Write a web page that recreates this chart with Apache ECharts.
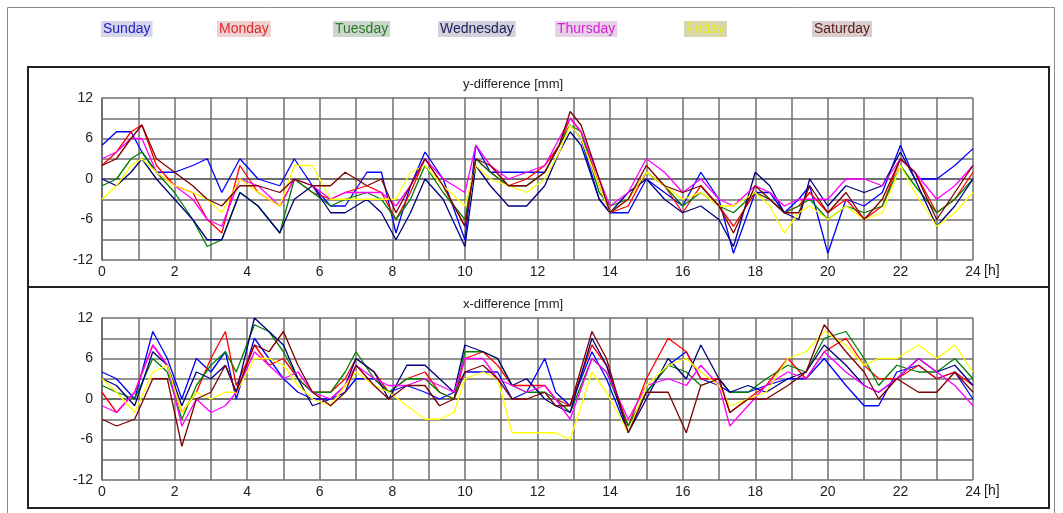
<!DOCTYPE html>
<html>
<head>
<meta charset="utf-8">
<script src="https://cdn.jsdelivr.net/npm/echarts@6/dist/echarts.min.js"></script>
<style>
  html, body { margin: 0; padding: 0; background: #fff; }
  #chart { width: 1063px; height: 513px; }
</style>
</head>
<body>
<div id="chart"></div>
<script>
const days = ['Sunday', 'Monday', 'Tuesday', 'Wednesday', 'Thursday', 'Friday', 'Saturday']
const dayColors = ['#0000ff', '#ff0000', '#008000', '#000080', '#ff00ff', '#ffff00', '#800000']

// sample times [h] for the y-difference panel
const hoursY = [0, 0.4, 0.8, 1.1, 1.5, 2.0, 2.5, 2.9, 3.3, 3.8, 4.3, 4.9, 5.3, 5.8, 6.3, 6.7, 7.3, 7.7, 8.1, 8.5,
  8.9, 9.4, 10.0, 10.3, 10.7, 11.2, 11.7, 12.2, 12.6, 12.9, 13.2, 13.7, 14.0, 14.5, 15.0, 15.5, 16.0, 16.5, 17.0, 17.4,
  18.0, 18.4, 18.8, 19.2, 19.5, 20.0, 20.5, 21.0, 21.5, 22.0, 22.4, 23.0, 23.5, 24.0]

const yDiffSunday = [5, 7, 7, 4, 1, 1, 2, 3, -2, 3, 0, -1, 3, -1, -4, -4, 1, 1, -8, -1,
  4, 0, -9, 5, 1, 1, 1, 1, 5, 8, 6, -3, -5, -5, 0, -2, -4, 1, -3, -11,
  -2, -2, -5, -3, -1, -11, -3, -4, -2, 5, 0, 0, 2, 4.5]
const yDiffMonday = [2, 4, 7, 8, 2, -1, -2, -6, -8, 2, -2, -4, 0, -2, -3, -2, -1, -2, -6, -2,
  3, -1, -7, 3, 1, -1, 0, 2, 5, 9, 7, -1, -5, -4, 1, -1, -5, -1, -4, -7,
  -2, -3, -5, -4, -2, -5, -3, -6, -4, 3, 1, -5, -3, 1]
const yDiffTuesday = [-1, 0, 3, 4, 1, -2, -6, -10, -9, -2, -4, -8, 0, -2, -4, -3, -2, -3, -6, -3,
  2, -2, -6, 3, 1, -1, -1, 1, 5, 8, 7, -2, -4, -3, 1, -1, -4, -2, -4, -5,
  -2, -3, -5, -4, -3, -6, -4, -5, -4, 2, -1, -5, -3, 0]
const yDiffWednesday = [0, -1, 1, 3, 0, -3, -6, -9, -9, -2, -4, -8, -3, -1, -5, -5, -3, -5, -9, -5,
  0, -3, -10, 2, -1, -4, -4, -1, 4, 7, 5, -3, -5, -2, 0, -3, -5, -4, -6, -10,
  1, -1, -5, -6, 0, -4, -1, -2, -1, 4, 0, -7, -4, 0]
const yDiffThursday = [3, 4, 6, 6, 1, -1, -3, -6, -7, 0, -1, -4, 0, -1, -3, -2, -2, -2, -4, -1,
  3, 0, -2, 5, 2, 0, 1, 2, 6, 9, 7, 0, -4, -2, 3, 1, -2, 0, -3, -4,
  -1, -2, -4, -3, -3, -3, 0, 0, -1, 3, 1, -3, -1, 2]
const yDiffFriday = [-3, -1, 2, 3, 1, -1, -2, -3, -5, 0, -2, -4, 2, 2, -3, -3, -3, -3, -3, 1,
  2, -1, -4, 2, 0, -1, -2, 0, 4, 8, 6, -1, -5, -3, 1, -1, -3, -2, -4, -4,
  -2, -4, -8, -5, -4, -6, -4, -6, -5, 2, -2, -7, -5, -2]
const yDiffSaturday = [2, 3, 6, 8, 3, 1, -1, -3, -4, -1, -1, -2, 0, -1, -1, 1, -1, 0, -5, -1,
  3, -1, -7, 3, 2, -1, -1, 1, 5, 10, 8, 0, -5, -3, 2, -1, -2, -1, -4, -8,
  -1, -3, -5, -5, -1, -5, -2, -6, -3, 3, 1, -6, -2, 2]

// sample times [h] for the x-difference panel
const hoursX = [0, 0.4, 0.9, 1.4, 1.8, 2.2, 2.6, 3.0, 3.4, 3.7, 4.2, 4.6, 5.0, 5.4, 5.8, 6.3, 6.7, 7.0, 7.5, 7.9,
  8.4, 8.9, 9.3, 9.7, 10.0, 10.5, 10.9, 11.3, 11.7, 12.2, 12.5, 12.9, 13.5, 13.9, 14.5, 15.0, 15.6, 16.1, 16.5, 17.0,
  17.3, 17.8, 18.3, 18.9, 19.4, 19.9, 20.5, 21.0, 21.4, 21.9, 22.5, 23.0, 23.5, 24.0]

const xDiffSunday = [4, 3, 0, 10, 6, 0, 6, 4, 7, 0, 9, 6, 3, 1, 0, 0, 1, 3, 3, 1,
  2, 1, 0, 1, 4, 4, 4, 0, 1, 6, 1, -1, 7, 3, -5, 1, 5, 7, 3, 2,
  1, 1, 2, 3, 3, 6, 2, -1, -1, 4, 5, 3, 4, 0]
const xDiffMonday = [1, -2, 1, 8, 5, -2, 1, 6, 10, 2, 8, 5, 6, 3, 1, 1, 3, 6, 4, 1,
  3, 4, 1, 0, 6, 7, 5, 2, 2, 2, 0, -1, 8, 5, -4, 3, 9, 7, 3, 3,
  -2, 0, 2, 6, 3, 7, 9, 5, 3, 3, 5, 3, 4, 2]
const xDiffTuesday = [2, 1, 0, 6, 4, -3, 2, 5, 7, 4, 11, 10, 7, 3, 1, 1, 4, 7, 3, 1,
  3, 3, 1, 0, 7, 7, 6, 2, 1, 1, 0, -2, 6, 4, -4, 1, 5, 4, 2, 3,
  1, 1, 3, 5, 4, 9, 10, 6, 2, 5, 4, 4, 6, 3]
const xDiffWednesday = [3, 2, -1, 7, 5, -1, 4, 3, 5, 1, 12, 10, 8, 3, -1, 0, 2, 6, 4, 0,
  5, 5, 3, 1, 8, 7, 6, 2, 3, 0, -1, -2, 9, 5, -5, 0, 6, 3, 8, 3,
  1, 2, 1, 3, 4, 8, 5, 2, 1, 3, 6, 4, 5, 2]
const xDiffThursday = [-1, -2, 1, 8, 5, -4, 0, -2, -1, 1, 7, 5, 3, 4, 1, 0, 2, 5, 3, 2,
  2, 3, 2, 1, 6, 6, 3, 2, 1, 2, 0, -3, 6, 4, -3, 2, 3, 2, 5, 2,
  -4, -1, 2, 4, 3, 7, 4, 2, 1, 3, 6, 4, 2, -1]
const xDiffFriday = [3, 1, -2, 4, 5, -2, 1, 0, 1, 1, 6, 6, 5, 2, 0, -1, 2, 4, 2, 1,
  -1, -3, -3, -2, 3, 4, 3, -5, -5, -5, -5, -6, 4, 1, -5, 2, 5, 6, 4, 2,
  -1, 0, 1, 6, 7, 10, 8, 5, 6, 6, 8, 6, 8, 4]
const xDiffSaturday = [-3, -4, -3, 3, 3, -7, 0, 1, 5, 1, 8, 7, 10, 5, 1, -1, 1, 5, 2, 0,
  2, 2, -1, 0, 4, 5, 3, 0, 0, 1, -1, -1, 10, 6, -5, 1, 1, -5, 2, 3,
  -2, 0, 0, 2, 4, 11, 7, 4, 0, 3, 1, 1, 4, 1]

const yDiff = [yDiffSunday, yDiffMonday, yDiffTuesday, yDiffWednesday, yDiffThursday, yDiffFriday, yDiffSaturday]
const xDiff = [xDiffSunday, xDiffMonday, xDiffTuesday, xDiffWednesday, xDiffThursday, xDiffFriday, xDiffSaturday]

// legend label placement (left edge of each text) and tinted backgrounds
const legendLeft = [95, 211, 327, 432, 549, 678, 806]
const legendBg = ['#d6d6ea', '#ecd2d2', '#cdd6cd', '#d2d2da', '#e6d2e6', '#d6d6b0', '#dacece']
const legendText = ['#2020c8', '#e02828', '#2a7a2a', '#20205e', '#d820d8', '#e8e820', '#602020']

const fontFamily = '"Liberation Sans", Arial, sans-serif'

const chart = echarts.init(document.getElementById('chart'))

const makeX = (gridIndex) => ({
  gridIndex,
  type: 'value',
  min: 0,
  max: 24,
  interval: 1,
  axisLine: { lineStyle: { color: '#666', width: 1.5 } },
  axisTick: { show: false },
  axisLabel: {
    color: '#222',
    fontSize: 14,
    fontFamily,
    margin: 5,
    formatter: (v) => (v % 2 === 0 ? String(v) : '')
  },
  splitLine: { show: true, lineStyle: { color: '#6e6e6e', width: 1.5 } }
})

const makeY = (gridIndex) => ({
  gridIndex,
  type: 'value',
  min: -12,
  max: 12,
  interval: 3,
  axisLine: { show: true, lineStyle: { color: '#666', width: 1.5 } },
  axisTick: { show: false },
  axisLabel: {
    color: '#222',
    fontSize: 14,
    fontFamily,
    margin: 9,
    formatter: (v) => (v % 6 === 0 ? String(v) : '')
  },
  splitLine: { show: true, lineStyle: { color: '#6e6e6e', width: 1.5 } }
})

const series = []
days.forEach((day, i) => {
  series.push({
    name: day,
    type: 'line',
    xAxisIndex: 0,
    yAxisIndex: 0,
    data: hoursY.map((h, k) => [h, yDiff[i][k]]),
    symbol: 'none',
    lineStyle: { color: dayColors[i], width: 1.3 },
    itemStyle: { color: dayColors[i] }
  })
  series.push({
    name: day,
    type: 'line',
    xAxisIndex: 1,
    yAxisIndex: 1,
    data: hoursX.map((h, k) => [h, xDiff[i][k]]),
    symbol: 'none',
    lineStyle: { color: dayColors[i], width: 1.3 },
    itemStyle: { color: dayColors[i] }
  })
})

const unitText = (top) => ({
  type: 'text',
  silent: true,
  left: 984,
  top,
  style: { text: '[h]', fontSize: 14, fontFamily, fill: '#222' }
})

const option = {
  backgroundColor: '#fff',
  animation: false,
  title: [
    { text: 'y-difference [mm]', left: 513, top: 78, textAlign: 'center', padding: 0,
      textStyle: { fontSize: 13, fontWeight: 'normal', color: '#222', fontFamily } },
    { text: 'x-difference [mm]', left: 513, top: 298, textAlign: 'center', padding: 0,
      textStyle: { fontSize: 13, fontWeight: 'normal', color: '#222', fontFamily } }
  ],
  legend: days.map((day, i) => ({
    data: [day],
    left: legendLeft[i],
    top: 21,
    padding: 0,
    itemWidth: 0,
    itemHeight: 0,
    selectedMode: false,
    textStyle: {
      color: legendText[i],
      backgroundColor: legendBg[i],
      padding: [1, 2],
      fontSize: 14,
      fontFamily
    }
  })),
  graphic: [
    { type: 'rect', silent: true, shape: { x: 7.5, y: 7.5, width: 1047, height: 520 },
      style: { fill: 'none', stroke: '#8a8a8a', lineWidth: 1 } },
    { type: 'rect', silent: true, shape: { x: 28, y: 67, width: 1021, height: 220 },
      style: { fill: 'none', stroke: '#222', lineWidth: 2 } },
    { type: 'rect', silent: true, shape: { x: 28, y: 287, width: 1021, height: 221 },
      style: { fill: 'none', stroke: '#222', lineWidth: 2 } },
    unitText(264),
    unitText(484)
  ],
  grid: [
    { left: 102, top: 98, width: 871, height: 162 },
    { left: 102, top: 318, width: 871, height: 162 }
  ],
  xAxis: [makeX(0), makeX(1)],
  yAxis: [makeY(0), makeY(1)],
  series
}

chart.setOption(option)
</script>
</body>
</html>
